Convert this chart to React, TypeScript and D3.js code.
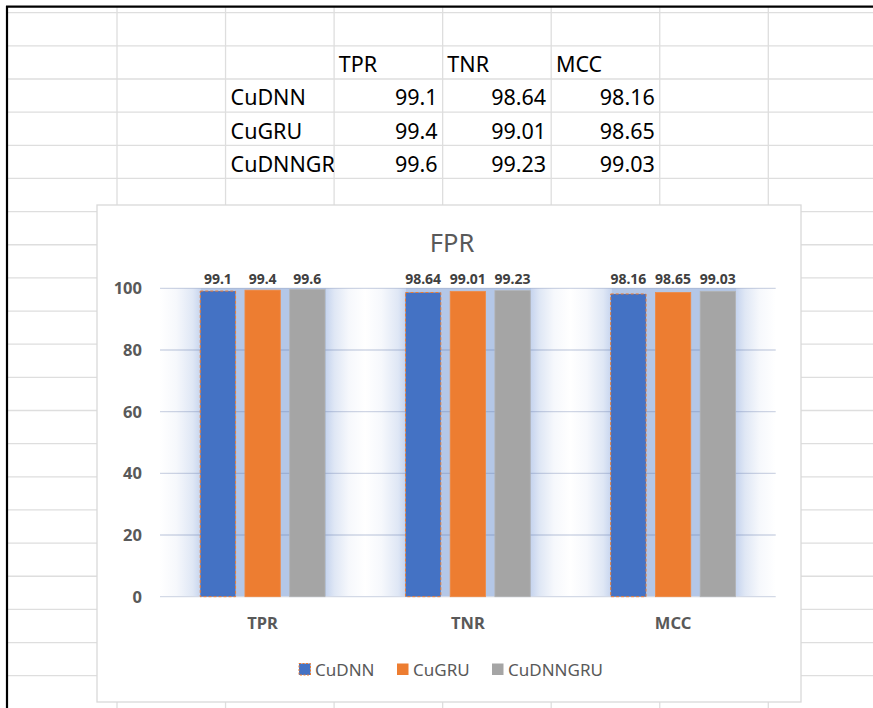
import React from "react";
import * as d3 from "d3";

const categories = ["TPR", "TNR", "MCC"];
const seriesNames = ["CuDNN", "CuGRU", "CuDNNGRU"];
const cudnnValues = [99.1, 98.64, 98.16];
const cugruValues = [99.4, 99.01, 98.65];
const cudnngruValues = [99.6, 99.23, 99.03];
const yTicks = [0, 20, 40, 60, 80, 100];
const chartTitle = "FPR";

const seriesValues = [cudnnValues, cugruValues, cudnngruValues];
const colors = ["#4472c4", "#ed7d31", "#a5a5a5"];
const FONT = "'Noto Sans', 'DejaVu Sans', sans-serif";

export default function App() {
  const W = 873;
  const H = 708;

  // spreadsheet grid
  const rowY0 = 12.7;
  const rowH = 33.15;
  const colX0 = 117;
  const colW = 108.55;
  const rowLines = d3.range(0, 22).map((k) => rowY0 + rowH * k);
  const colLines = d3.range(0, 7).map((k) => colX0 + colW * k);
  const colStart = (c: number) => colX0 + colW * (c - 1); // c=1 -> 117
  const rowBottom = (r: number) => rowY0 + rowH * r;

  // chart
  const box = { x: 97, y: 205, w: 704, h: 497 };
  const plotL = 160;
  const plotR = 775.7;
  const x0 = d3.scaleBand<string>().domain(categories).range([plotL, plotR]).padding(0);
  const x1 = d3
    .scaleBand<string>()
    .domain(seriesNames)
    .range([0, x0.bandwidth()])
    .paddingInner(0.21)
    .paddingOuter(0.9);
  const y = d3.scaleLinear().domain([0, 100]).range([596.7, 288.3]);

  const legendX = [299, 397, 492];

  return (
    <svg
      width={W}
      height={H}
      style={{ position: "absolute", left: 0, top: 0, background: "#fff" }}
      fontFamily={FONT}
    >
      <defs>
        <linearGradient id="bandGrad" x1="0" x2="1" y1="0" y2="0">
          <stop offset="0" stopColor="#ffffff" />
          <stop offset="0.08" stopColor="#f6f8fc" />
          <stop offset="0.16" stopColor="#dfe7f5" />
          <stop offset="0.2" stopColor="#c6d4ee" />
          <stop offset="0.2" stopColor="#b4c7e7" />
          <stop offset="0.807" stopColor="#b4c7e7" />
          <stop offset="0.807" stopColor="#c6d4ee" />
          <stop offset="0.85" stopColor="#dfe7f5" />
          <stop offset="0.92" stopColor="#f6f8fc" />
          <stop offset="1" stopColor="#ffffff" />
        </linearGradient>
        <clipPath id="cellClip">
          <rect x={0} y={0} width={colStart(3)} height={H} />
        </clipPath>
      </defs>
      <rect x={0} y={0} width={W} height={H} fill="#fff" />
      {/* sheet gridlines */}
      {rowLines.map((ry, i) => (
        <line key={"r" + i} x1={7} x2={W} y1={ry} y2={ry} stroke="#dedede" strokeWidth={1.3} />
      ))}
      {colLines.map((cx, i) => (
        <line key={"c" + i} x1={cx} x2={cx} y1={6} y2={H} stroke="#dedede" strokeWidth={1.3} />
      ))}
      {/* black frame */}
      <line x1={6} x2={W} y1={6.7} y2={6.7} stroke="#000" strokeWidth={2.2} />
      <line x1={7} x2={7} y1={6} y2={H} stroke="#000" strokeWidth={2.2} />

      {/* table */}
      <g fontSize={21.5} fill="#000">
        {categories.map((c, j) => (
          <text key={"h" + c} x={colStart(3 + j) + 4.7} y={rowBottom(2) - 6.7}>
            {c}
          </text>
        ))}
        {seriesNames.map((s, i) => (
          <g key={"row" + s}>
            <text x={colStart(2) + 5} y={rowBottom(3 + i) - 6.7} clipPath="url(#cellClip)">
              {s}
            </text>
            {seriesValues[i].map((v, j) => (
              <text
                key={j}
                x={colStart(4 + j) - 5}
                y={rowBottom(3 + i) - 6.7}
                textAnchor="end"
              >
                {String(v)}
              </text>
            ))}
          </g>
        ))}
      </g>

      {/* chart box */}
      <rect x={box.x} y={box.y} width={box.w} height={box.h} fill="#fff" stroke="#d9d9d9" strokeWidth={1.3} />
      <text x={452} y={252.3} textAnchor="middle" fontSize={25.5} fill="#595959">
        {chartTitle}
      </text>

      {/* band gradients */}
      {categories.map((c) => (
        <rect
          key={"bg" + c}
          x={x0(c)}
          y={y(100)}
          width={x0.bandwidth()}
          height={y(0) - y(100)}
          fill="url(#bandGrad)"
        />
      ))}

      {/* gridlines */}
      {yTicks.map((t) => (
        <line
          key={"g" + t}
          x1={plotL}
          x2={plotR}
          y1={y(t)}
          y2={y(t)}
          stroke={t === 0 ? "#d3d9e6" : "rgba(100,120,170,0.3)"}
          strokeWidth={1.3}
        />
      ))}
      {yTicks.map((t) => (
        <text
          key={"yt" + t}
          x={142}
          y={y(t) + 5.9}
          textAnchor="end"
          fontSize={16.5}
          fontWeight="bold"
          fill="#595959"
        >
          {t}
        </text>
      ))}

      {/* bars */}
      {seriesNames.map((s, i) => (
        <g key={"s" + s}>
          {categories.map((c, j) => {
            const v = seriesValues[i][j];
            const bx = (x0(c) as number) + (x1(s) as number);
            return (
              <g key={c}>
                <rect
                  x={bx}
                  y={y(v)}
                  width={x1.bandwidth()}
                  height={y(0) - y(v)}
                  fill={colors[i]}
                  stroke={i === 0 ? "#ed7d31" : i === 2 ? "#b3b3b3" : "#f08a44"}
                  strokeWidth={i === 0 ? 1 : 0.8}
                  strokeDasharray={i === 0 ? "3,2" : undefined}
                />
                <text
                  x={bx + x1.bandwidth() / 2}
                  y={y(100) - 4.5}
                  textAnchor="middle"
                  fontSize={14}
                  fontWeight="bold"
                  fill="#404040"
                >
                  {String(v)}
                </text>
              </g>
            );
          })}
        </g>
      ))}

      {/* x labels */}
      {categories.map((c) => (
        <text
          key={"xl" + c}
          x={(x0(c) as number) + x0.bandwidth() / 2}
          y={629.3}
          textAnchor="middle"
          fontSize={16.5}
          fontWeight="bold"
          fill="#595959"
        >
          {c}
        </text>
      ))}

      {/* legend */}
      {seriesNames.map((s, i) => (
        <g key={"lg" + s}>
          <rect
            x={legendX[i]}
            y={663.5}
            width={11.5}
            height={11.5}
            fill={colors[i]}
            stroke={i === 0 ? "#ed7d31" : "none"}
            strokeWidth={1}
            strokeDasharray={i === 0 ? "2,1.5" : undefined}
          />
          <text x={legendX[i] + 16} y={676} fontSize={17} fill="#595959">
            {s}
          </text>
        </g>
      ))}
    </svg>
  );
}
